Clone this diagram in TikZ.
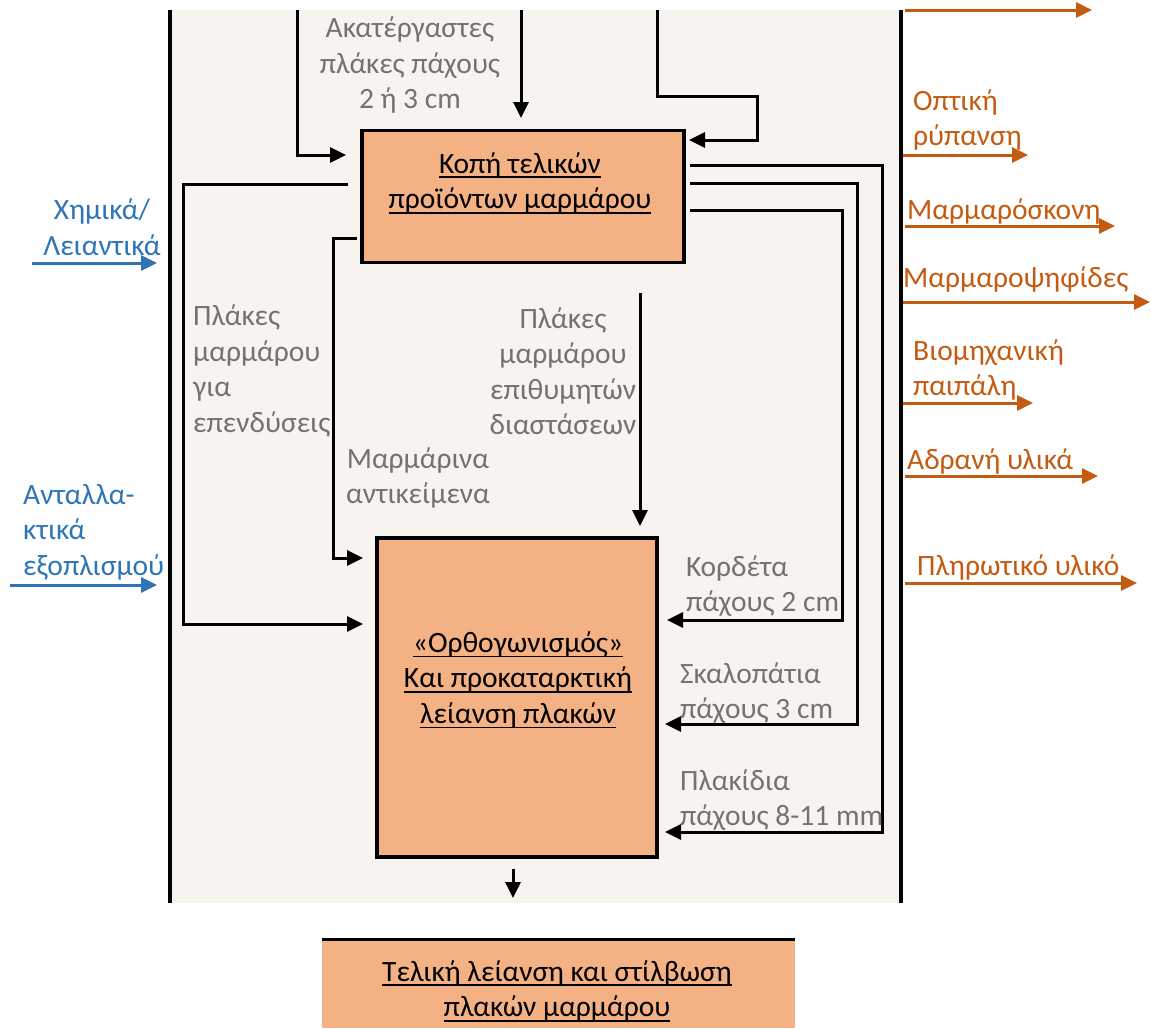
\documentclass[tikz,border=0pt]{standalone}
\usepackage{fontspec}
\setmainfont{Carlito}
\usetikzlibrary{arrows.meta}
\definecolor{boxfill}{HTML}{F4B183}
\definecolor{labgray}{HTML}{767171}
\definecolor{inblue}{HTML}{2E75B6}
\definecolor{outorange}{HTML}{C55A11}
\definecolor{panel}{HTML}{F7F4EF}
\newlength\myulw
\newcommand\myul[1]{\settowidth\myulw{#1}\rlap{\rule[-5pt]{\myulw}{1.8pt}}#1}
\tikzset{
  flow/.style={line width=3pt, black, -{Triangle[length=16pt,width=15pt]}},
  inflow/.style={line width=3pt, inblue, -{Triangle[length=16pt,width=15pt]}},
  outflow/.style={line width=3pt, outorange, -{Triangle[length=16pt,width=15pt]}},
  basefont/.style={font=\fontsize{29.5}{35.5}\selectfont, inner sep=0pt},
  lbl/.style={basefont, text=labgray},
  inlbl/.style={basefont, text=inblue},
  outlbl/.style={basefont, text=outorange, align=left, anchor=west},
  boxtext/.style={basefont, text=black, align=center},
  procbox/.style={draw=black, line width=3.2pt, fill=boxfill, inner sep=0pt},
}
\begin{document}
\begin{tikzpicture}[x=1pt,y=-1pt]
\useasboundingbox (0,0) rectangle (1151,1028);
% panel
\fill[panel] (170,10) rectangle (901,903);
\draw[line width=3.2pt] (170,10) -- (170,903);
\draw[line width=3.2pt] (901,10) -- (901,903);

% boxes
\node[procbox, minimum width=322pt, minimum height=132pt] (cutbox) at (523,196.5) {};
\node[boxtext] (cuttext) at (520,183) {\myul{Κοπή τελικών}\\\myul{προϊόντων μαρμάρου}};
\node[procbox, minimum width=280pt, minimum height=319pt] (sqbox) at (517,697.5) {};
\node[boxtext] (sqtext) at (518,680) {\myul{«Ορθογωνισμός»}\\\myul{Και προκαταρκτική}\\\myul{λείανση πλακών}};
\node[fill=boxfill, minimum width=473pt, minimum height=88pt, inner sep=0pt] (finbox) at (558.5,984) {};
\draw[line width=3.2pt] (finbox.north west) -- (finbox.north east);
\node[boxtext] (fintext) at (557,991) {\myul{Τελική λείανση και στίλβωση}\\\myul{πλακών μαρμάρου}};

% inputs to cutting box
\coordinate (t1) at (297,10);
\coordinate (t2) at (521,10);
\coordinate (t3) at (657,10);
\draw[flow] (t1) -- (297,155) -- (346,155);
\draw[flow] (t2) -- (521,118);
\draw[flow] (t3) -- (657,96) -- (757,96) -- (757,140) -- (689,140);
\node[lbl, align=center] (rawlbl) at (410,65) {Ακατέργαστες\\πλάκες πάχους\\2 ή 3 cm};

% outputs of cutting box to left
\coordinate (l1) at (348,184);
\coordinate (l2) at (357,238);
\draw[flow] (l1) -- (183,184) -- (183,624) -- (363,624);
\draw[flow] (l2) -- (333,238) -- (333,558) -- (363,558);
\node[lbl, align=left, anchor=west] (cladlbl) at (193,371) {Πλάκες\\μαρμάρου\\για\\επενδύσεις};
\node[lbl, align=center] (objlbl) at (418,478) {Μαρμάρινα\\αντικείμενα};

% middle
\coordinate (m1) at (640,293);
\draw[flow] (m1) -- (640,526);
\node[lbl, align=center] (dimlbl) at (563,371) {Πλάκες\\μαρμάρου\\επιθυμητών\\διαστάσεων};

% outputs of cutting box to right
\coordinate (r1) at (690,165);
\coordinate (r2) at (690,183);
\coordinate (r3) at (690,210);
\draw[flow] (r1) -- (882,165) -- (882,832) -- (665,832);
\draw[flow] (r2) -- (857,183) -- (857,724) -- (665,724);
\draw[flow] (r3) -- (842,210) -- (842,620) -- (667,620);
\node[lbl, align=left, anchor=west] (kordlbl) at (686,586) {Κορδέτα\\πάχους 2 cm};
\node[lbl, align=left, anchor=west] (sklbl) at (680,693) {Σκαλοπάτια\\πάχους 3 cm};
\node[lbl, align=left, anchor=west] (pllbl) at (680,800) {Πλακίδια\\πάχους 8-11 mm};

% to final box
\coordinate (b1) at (513,869);
\draw[flow] (b1) -- (513,898);

% blue inputs
\node[inlbl, align=center] (chemlbl) at (102,227) {Χημικά/\\Λειαντικά};
\coordinate (c1) at (32,263);
\draw[inflow] (c1) -- (157,263);
\node[inlbl, align=left, anchor=west] (sparelbl) at (23,532) {Ανταλλα-\\κτικά\\εξοπλισμού};
\coordinate (c2) at (10,585);
\draw[inflow] (c2) -- (157,585);

% orange outputs
\draw[outflow] (905,10) -- (1092,10);
\node[outlbl] (o1) at (913,120) {Οπτική\\ρύπανση};
\draw[outflow] (903,155) -- (1028,155);
\node[outlbl] (o2) at (907,211) {Μαρμαρόσκονη};
\draw[outflow] (905,226) -- (1115,226);
\node[outlbl] (o3) at (903,279) {Μαρμαροψηφίδες};
\draw[outflow] (903,302) -- (1150,302);
\node[outlbl] (o4) at (913,370) {Βιομηχανική\\παιπάλη};
\draw[outflow] (903,403) -- (1033,403);
\node[outlbl] (o5) at (907,461) {Αδρανή υλικά};
\draw[outflow] (905,476) -- (1098,476);
\node[outlbl] (o6) at (917,567) {Πληρωτικό υλικό};
\draw[outflow] (905,583) -- (1137,583);
\end{tikzpicture}
\end{document}
